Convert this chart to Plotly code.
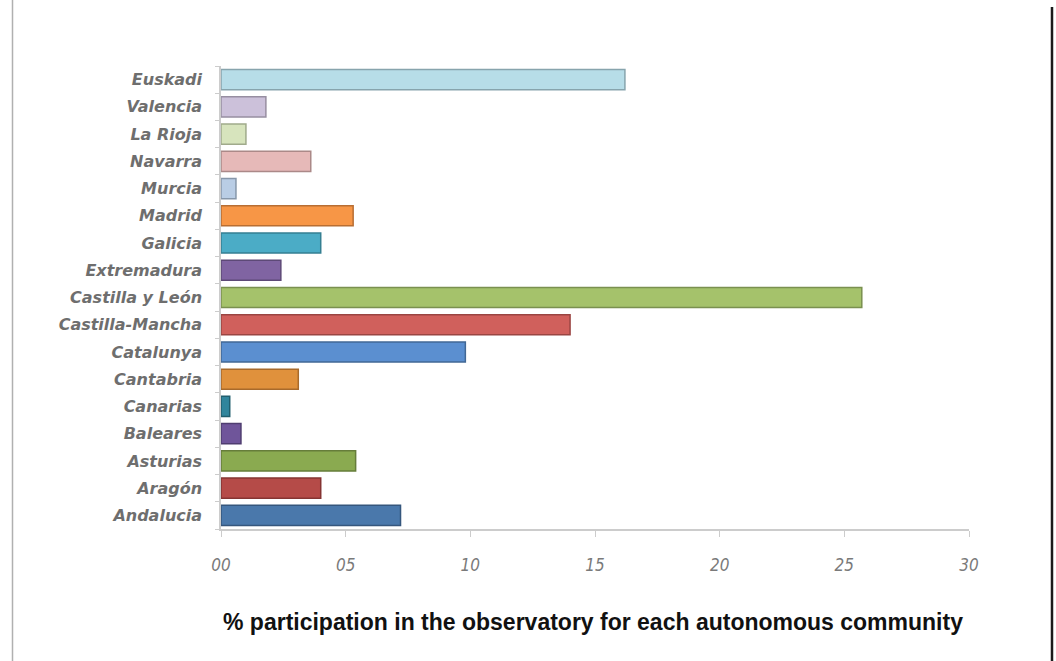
import plotly.graph_objects as go

categories = ["Andalucia", "Aragón", "Asturias", "Baleares", "Canarias", "Cantabria",
              "Catalunya", "Castilla-Mancha", "Castilla y León", "Extremadura", "Galicia",
              "Madrid", "Murcia", "Navarra", "La Rioja", "Valencia", "Euskadi"]
values = [7.2, 4.0, 5.4, 0.8, 0.35, 3.1, 9.8, 14.0, 25.7, 2.4, 4.0, 5.3, 0.6, 3.6, 1.0, 1.8, 16.2]
colors = ["#4a78ab", "#b54b48", "#8aaa50", "#6f559a", "#31859c", "#e0913c",
          "#5b8fd0", "#d0605c", "#a5c26b", "#8064a2", "#4bacc6", "#f79646",
          "#b9cde5", "#e6b9b8", "#d7e4bd", "#ccc1da", "#b7dde8"]
edge_colors = ["#35567d", "#853432", "#667d3a", "#4f3d70", "#215e6e", "#a86a2b",
               "#416895", "#9a4542", "#7a904f", "#5d4977", "#357f92", "#b86e33",
               "#8797aa", "#ab8988", "#a0aa8b", "#978ea1", "#87a4ad"]
tick_vals = [0, 5, 10, 15, 20, 25, 30]
tick_text = ["00", "05", "10", "15", "20", "25", "30"]
caption = "% participation in the observatory for each autonomous community"

W, H = 1056, 661
L, R, T, B = 221, 87, 66, 132
pw = W - L - R
ph = H - T - B

fig = go.Figure(go.Bar(
    x=values, y=categories, orientation="h",
    marker=dict(color=colors, line=dict(color=edge_colors, width=1.5)),
    width=0.74,
))

fig.update_layout(
    width=W, height=H,
    margin=dict(l=L, r=R, t=T, b=B, pad=0),
    paper_bgcolor="white", plot_bgcolor="white",
    showlegend=False,
    xaxis=dict(range=[0, 30], tickvals=tick_vals, ticktext=tick_text,
               showgrid=False, zeroline=False, showline=True,
               linecolor="#cccccc", linewidth=2, ticks="outside", ticklen=6,
               tickcolor="#cccccc", ticklabelstandoff=14,
               tickfont=dict(family="DejaVu Sans Condensed, DejaVu Sans", size=17,
                             color="#7a7a7a", style="italic")),
    yaxis=dict(range=[-0.5, 16.5], showgrid=False, zeroline=False, showline=True,
               linecolor="#cccccc", linewidth=1.5, ticks="outside", tickson="boundaries",
               ticklen=4, tickcolor="#cccccc", ticklabelstandoff=14,
               tickfont=dict(family="DejaVu Sans", size=16, color="#6e6e6e",
                             style="italic", weight="bold")),
    annotations=[dict(text=caption, xref="paper", yref="paper",
                      x=(593 - L) / pw, y=-(622 - (T + ph)) / ph,
                      xanchor="center", yanchor="middle", showarrow=False,
                      font=dict(family="Liberation Sans, Arial", size=23,
                                color="#111111", weight="bold"))],
    shapes=[
        dict(type="line", xref="paper", yref="paper",
             x0=(12.5 - L) / pw, x1=(12.5 - L) / pw,
             y0=(T + ph) / ph, y1=-B / ph,
             line=dict(color="#b0b0b0", width=1.5)),
        dict(type="line", xref="paper", yref="paper",
             x0=(1052 - L) / pw, x1=(1052 - L) / pw,
             y0=(T + ph - 7) / ph, y1=-B / ph,
             line=dict(color="#1a1a1a", width=2.5)),
    ],
)

fig.write_html("out.html")
